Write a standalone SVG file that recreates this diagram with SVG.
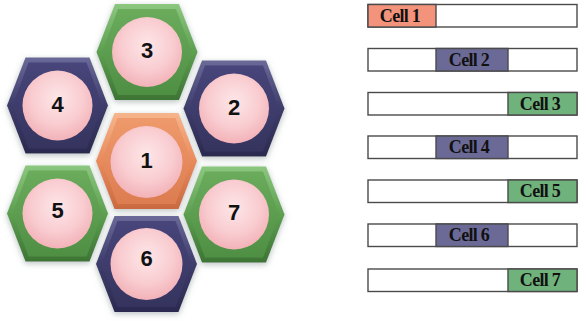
<svg xmlns="http://www.w3.org/2000/svg" width="578" height="322" viewBox="0 0 578 322">
<defs>
<path id="hex" d="M-50.5,0 L-32,-48 L32,-48 L50.5,0 L32,48 L-32,48 Z"/>
<path id="hexIn" d="M-45,0 L-29,-43 L29,-43 L45,0 L29,43 L-29,43 Z"/>
<linearGradient id="gG" x1="0" y1="0" x2="0" y2="1"><stop offset="0" stop-color="#8cc77f"/><stop offset="0.5" stop-color="#5d9f50"/><stop offset="1" stop-color="#3d7434"/></linearGradient>
<linearGradient id="gGi" x1="0" y1="0" x2="0" y2="1"><stop offset="0" stop-color="#6aab5c"/><stop offset="1" stop-color="#4f8f44"/></linearGradient>
<linearGradient id="gP" x1="0" y1="0" x2="0" y2="1"><stop offset="0" stop-color="#6a6998"/><stop offset="0.5" stop-color="#3e3c6b"/><stop offset="1" stop-color="#2b2a50"/></linearGradient>
<linearGradient id="gPi" x1="0" y1="0" x2="0" y2="1"><stop offset="0" stop-color="#47457a"/><stop offset="1" stop-color="#35345e"/></linearGradient>
<linearGradient id="gO" x1="0" y1="0" x2="0" y2="1"><stop offset="0" stop-color="#f6b58c"/><stop offset="0.5" stop-color="#e98a5c"/><stop offset="1" stop-color="#c96a40"/></linearGradient>
<linearGradient id="gOi" x1="0" y1="0" x2="0" y2="1"><stop offset="0" stop-color="#ef9a6c"/><stop offset="1" stop-color="#dc7c50"/></linearGradient>
<radialGradient id="gC" cx="0.5" cy="0.4" r="0.6"><stop offset="0" stop-color="#fde6e8"/><stop offset="0.6" stop-color="#f9cdd1"/><stop offset="1" stop-color="#f2b2b8"/></radialGradient>
<filter id="sh" x="-20%" y="-20%" width="140%" height="140%"><feDropShadow dx="0" dy="2" stdDeviation="3" flood-color="#8a9696" flood-opacity="0.6"/></filter>
<style>
.num{font-family:"Liberation Sans",Arial,sans-serif;font-weight:bold;font-size:22px;fill:#111;text-anchor:middle}
.circ{fill:url(#gC)}
.bar{fill:#fff;stroke:#4a4a4a;stroke-width:1.4}
.seg{stroke:#4a4a4a;stroke-width:1.4}
.lbl{font-family:"Liberation Serif","Times New Roman",serif;font-weight:bold;font-size:18px;fill:#111;text-anchor:middle;letter-spacing:-0.7px}
</style>
</defs>
<rect width="578" height="322" fill="#fff"/>
<g id="hex3" transform="translate(147,52)"><use href="#hex" fill="url(#gG)" filter="url(#sh)"/><use href="#hexIn" fill="url(#gGi)"/><circle class="circ" r="35"/><text class="num" y="6">3</text></g>
<g id="hex4" transform="translate(57.5,105.5)"><use href="#hex" fill="url(#gP)" filter="url(#sh)"/><use href="#hexIn" fill="url(#gPi)"/><circle class="circ" r="35"/><text class="num" y="6">4</text></g>
<g id="hex2" transform="translate(234,108.5)"><use href="#hex" fill="url(#gP)" filter="url(#sh)"/><use href="#hexIn" fill="url(#gPi)"/><circle class="circ" r="35"/><text class="num" y="6">2</text></g>
<g id="hex1" transform="translate(146.5,161)"><use href="#hex" fill="url(#gO)" filter="url(#sh)"/><use href="#hexIn" fill="url(#gOi)"/><circle class="circ" r="36" cy="1"/><text class="num" y="7">1</text></g>
<g id="hex5" transform="translate(57.5,213.5)"><use href="#hex" fill="url(#gG)" filter="url(#sh)"/><use href="#hexIn" fill="url(#gGi)"/><circle class="circ" r="35"/><text class="num" y="4">5</text></g>
<g id="hex7" transform="translate(234,214.5)"><use href="#hex" fill="url(#gG)" filter="url(#sh)"/><use href="#hexIn" fill="url(#gGi)"/><circle class="circ" r="35"/><text class="num" y="5">7</text></g>
<g id="hex6" transform="translate(146.5,264)"><use href="#hex" fill="url(#gP)" filter="url(#sh)"/><use href="#hexIn" fill="url(#gPi)"/><circle class="circ" r="36"/><text class="num" y="2">6</text></g>

<g id="bar1"><rect class="bar" x="368" y="4.5" width="209" height="22.5"/><rect class="seg" x="368" y="4.5" width="68" height="22.5" fill="#f3937c"/><text class="lbl" x="400" y="21.5">Cell 1</text></g>
<g id="bar2"><rect class="bar" x="368" y="48.5" width="209" height="22.5"/><rect class="seg" x="436" y="48.5" width="72" height="22.5" fill="#6b6a97"/><text class="lbl" x="469" y="65.5">Cell 2</text></g>
<g id="bar3"><rect class="bar" x="368" y="92.5" width="209" height="22.5"/><rect class="seg" x="508" y="92.5" width="69" height="22.5" fill="#6fb27c"/><text class="lbl" x="540" y="109.5">Cell 3</text></g>
<g id="bar4"><rect class="bar" x="368" y="136" width="209" height="22.5"/><rect class="seg" x="436" y="136" width="72" height="22.5" fill="#6b6a97"/><text class="lbl" x="469" y="153">Cell 4</text></g>
<g id="bar5"><rect class="bar" x="368" y="180" width="209" height="22.5"/><rect class="seg" x="508" y="180" width="69" height="22.5" fill="#6fb27c"/><text class="lbl" x="540" y="197">Cell 5</text></g>
<g id="bar6"><rect class="bar" x="368" y="224" width="209" height="22.5"/><rect class="seg" x="436" y="224" width="72" height="22.5" fill="#6b6a97"/><text class="lbl" x="469" y="241">Cell 6</text></g>
<g id="bar7"><rect class="bar" x="368" y="269" width="209" height="22.5"/><rect class="seg" x="508" y="269" width="69" height="22.5" fill="#6fb27c"/><text class="lbl" x="540" y="286">Cell 7</text></g>
</svg>
